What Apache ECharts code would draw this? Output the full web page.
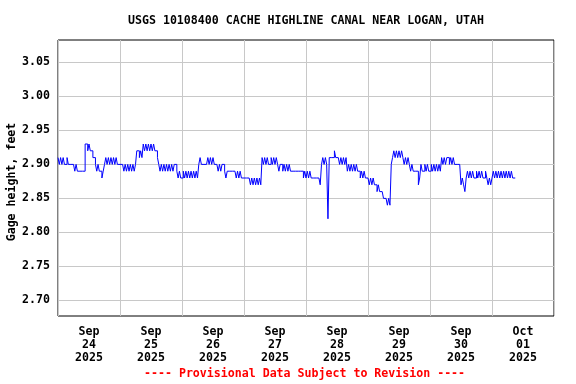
<!DOCTYPE html>
<html>
<head>
<meta charset="utf-8">
<script src="https://cdn.jsdelivr.net/npm/echarts@6/dist/echarts.min.js"></script>
<style>html,body{margin:0;padding:0;background:#fff}#c{width:576px;height:384px}</style>
</head>
<body>
<div id="c"></div>
<script>
// Gage height (feet), half-hourly readings, one array per day (UTC)
const sep24 = [2.91,2.90,2.91,2.90,2.91, 2.90,2.90,2.91,2.90,2.90,2.90,2.90,2.90,
  2.89,2.90,2.89,2.89,2.89,2.89,2.89,2.89, 2.93,2.93,2.92,2.93,2.92,2.92,2.91,2.91,
  2.90,2.89,2.90,2.89,2.89,2.88,2.89, 2.90,2.91,2.90,2.91,2.90,2.91,2.90,2.91,2.90,2.91,2.90, 2.90];
const sep25 = [2.90,2.90,2.90, 2.89,2.90,2.89,2.90,2.89,2.90,2.89,2.90,2.89,2.90,
  2.92,2.92,2.91,2.92,2.91, 2.93,2.92,2.93,2.92,2.93,2.92,2.93,2.92,2.93,2.92,
  2.92,2.91,2.90, 2.89,2.90,2.89,2.90,2.89,2.90,2.89,2.90,2.89, 2.90,2.89,2.90,2.90, 2.89,2.88,2.89,2.88];
const sep26 = [2.88,2.89,2.88,2.89,2.88,2.89,2.88,2.89,2.88,2.89,2.88,2.89, 2.88,2.90,
  2.91,2.90,2.90,2.90,2.90,2.90,2.91,2.90,2.91,2.90,2.91,2.90,2.90,2.90,2.89,2.90,2.89,2.90,2.90,
  2.89,2.88,2.89,2.89,2.89,2.89,2.89,2.89,2.89, 2.88,2.89,2.88,2.89,2.88,2.88];
const sep27 = [2.88,2.88,2.88,2.88,2.88, 2.87,2.88,2.87,2.88,2.87,2.88,2.87,2.88,2.87, 2.91,
  2.90,2.91,2.90,2.91,2.90,2.90, 2.91,2.90,2.91,2.90,2.91, 2.90,2.89,2.90,2.90,
  2.89,2.90,2.89,2.90,2.89,2.90, 2.89,2.89,2.89,2.89,2.89,2.89,2.89,2.89,2.89,2.89, 2.88,2.89];
const sep28 = [2.88,2.89,2.88,2.89,2.88, 2.88,2.88,2.88,2.88,2.88,2.88, 2.87,
  2.90,2.91,2.90,2.91,2.90,2.82,2.91, 2.91,2.91,2.91,2.92,2.91,2.91,2.91,
  2.90,2.91,2.90,2.91,2.90,2.91, 2.89,2.90,2.89,2.90,2.89,2.90, 2.89,2.90,2.89,2.89,
  2.88,2.89,2.88,2.89,2.88,2.88];
const sep29 = [2.88, 2.87,2.88,2.87,2.88, 2.87,2.87, 2.86,2.87,2.86, 2.86,2.86, 2.85, 2.85,2.85,
  2.84,2.85,2.84, 2.90, 2.91, 2.92,2.91,2.92,2.91,2.92,2.91,2.92, 2.91, 2.90,2.91,2.90,2.91, 2.90,
  2.89,2.90,2.89, 2.89,2.89,2.89, 2.87,2.88, 2.90, 2.89,2.89,2.90, 2.89,2.90,2.89];
const sep30 = [2.89,2.90,2.89,2.90,2.89,2.90,2.89,2.90,2.89,
  2.91,2.90,2.91,2.90,2.91,2.91,2.90,2.91,2.90,2.91,2.90, 2.90,2.90,2.90,2.90,
  2.87,2.88,2.87,2.86,
  2.88,2.89,2.88,2.89,2.88,2.89,2.88,2.88,2.89,2.88,2.89,2.88,2.89,2.88,2.88,2.89,2.88,
  2.87,2.88,2.87];
const oct01 = [2.88,2.89,2.88,2.89,2.88,2.89,2.88,2.89,2.88,2.89,2.88,2.89,2.88,2.89,2.88,2.89,2.88,2.88,2.88];

const days = [sep24, sep25, sep26, sep27, sep28, sep29, sep30, oct01];
const dayStarts = ['2025-09-24','2025-09-25','2025-09-26','2025-09-27','2025-09-28','2025-09-29','2025-09-30','2025-10-01'];
const xTickLabels = ['Sep\n24\n2025','Sep\n25\n2025','Sep\n26\n2025','Sep\n27\n2025','Sep\n28\n2025','Sep\n29\n2025','Sep\n30\n2025','Oct\n01\n2025'];
const yTickValues = [2.70, 2.75, 2.80, 2.85, 2.90, 2.95, 3.00, 3.05];
const titleText = 'USGS 10108400 CACHE HIGHLINE CANAL NEAR LOGAN, UTAH';
const yAxisName = 'Gage height, feet';
const footerText = '---- Provisional Data Subject to Revision ----';

const HALF_HOUR = 30 * 60 * 1000;
const DAY = 24 * 3600 * 1000;
const seriesData = [];
days.forEach((arr, d) => {
  const t0 = Date.parse(dayStarts[d] + 'T00:00:00Z');
  arr.forEach((v, i) => seriesData.push([t0 + i * HALF_HOUR, v]));
});
const xMin = Date.parse(dayStarts[0] + 'T00:00:00Z');
const xMax = xMin + 8 * DAY;
const midnights = [], noons = [];
for (let d = 0; d <= 8; d++) midnights.push(xMin + d * DAY);
for (let d = 0; d < 8; d++) noons.push(xMin + d * DAY + DAY / 2);

const FONT = 'DejaVu Sans Mono';
const FS = 11.6;
const FONT_CSS = 'bold ' + FS + 'px "' + FONT + '"';
const chart = echarts.init(document.getElementById('c'), null, {renderer: 'canvas'});
chart.setOption({
  animation: false,
  backgroundColor: '#ffffff',
  grid: {left: 58, right: 22, top: 40, bottom: 68, show: true, borderColor: '#000', borderWidth: 1,
         containLabel: false, outerBoundsMode: 'none'},
  xAxis: {
    type: 'value', min: xMin, max: xMax, interval: DAY,
    axisLine: {show: false},
    axisTick: {show: false, customValues: midnights},
    splitLine: {show: true, lineStyle: {color: '#c8c8c8', width: 1}},
    axisLabel: {
      customValues: noons, margin: 9,
      fontFamily: FONT, fontWeight: 'bold', fontSize: FS, lineHeight: 13, color: '#000',
      formatter: v => xTickLabels[Math.round((v - xMin - DAY / 2) / DAY)]
    }
  },
  yAxis: {
    type: 'value', min: 2.677, max: 3.083,
    axisLine: {show: false},
    axisTick: {show: false, customValues: yTickValues},
    splitLine: {show: true, lineStyle: {color: '#c8c8c8', width: 1}},
    axisLabel: {
      customValues: yTickValues, margin: 8,
      fontFamily: FONT, fontWeight: 'bold', fontSize: FS, color: '#000',
      formatter: v => v.toFixed(2)
    }
  },
  graphic: [
    {type: 'text', left: 128, top: 15, style: {text: titleText, font: FONT_CSS, fill: '#000'}},
    {type: 'text', left: 144, top: 368, style: {text: footerText, font: FONT_CSS, fill: '#ff0000'}},
    {type: 'text', x: 12, y: 182, rotation: Math.PI / 2,
     style: {text: yAxisName, font: FONT_CSS, fill: '#000', align: 'center', verticalAlign: 'middle'}}
  ],
  series: [{
    type: 'line', step: 'end', data: seriesData, showSymbol: false,
    lineStyle: {color: '#0000ff', width: 1}, z: 3
  }]
});
</script>
</body>
</html>
